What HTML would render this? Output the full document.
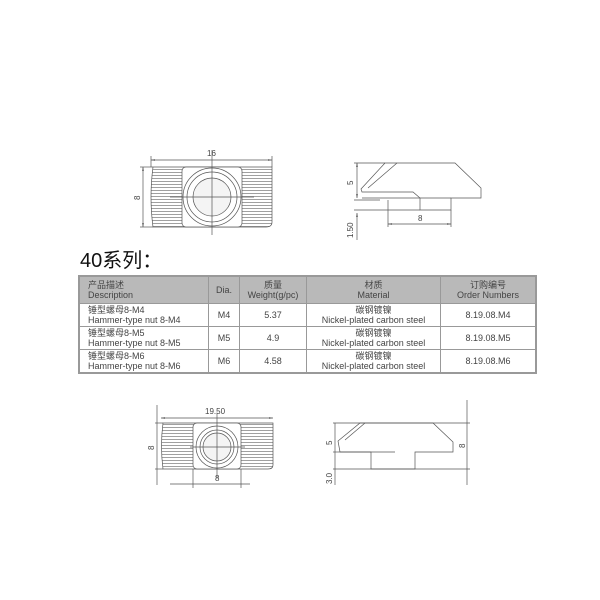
<!DOCTYPE html>
<html><head><style>
body{margin:0;background:#fff;width:600px;height:600px;overflow:hidden;position:relative;font-family:"Liberation Sans","Noto Sans CJK SC",sans-serif}
.t{position:absolute;left:78px;top:275px;border-collapse:collapse;font-size:9px;color:#444;line-height:10px;border:2px solid #999}
.t td{border:1px solid #999;padding:0 3px;text-align:center;height:22px}
.t tr.h td{background:#b9b9b9;height:26px}
.t td.l{text-align:left;padding-left:8px}
</style></head><body>
<div style="position:absolute;left:80px;top:244px;font-size:20px;color:#111;font-family:'Liberation Sans','Noto Sans CJK SC',sans-serif">40系列：</div>
<table class="t">
<tr class="h"><td class="l" style="width:117px">产品描述<br>Description</td><td style="width:24px">Dia.</td><td style="width:60px">质量<br>Weight(g/pc)</td><td style="width:127px">材质<br>Material</td><td style="width:88px">订购编号<br>Order Numbers</td></tr>
<tr><td class="l">锤型螺母8-M4<br>Hammer-type nut 8-M4</td><td>M4</td><td>5.37</td><td>碳钢镀镍<br>Nickel-plated carbon steel</td><td>8.19.08.M4</td></tr>
<tr><td class="l">锤型螺母8-M5<br>Hammer-type nut 8-M5</td><td>M5</td><td>4.9</td><td>碳钢镀镍<br>Nickel-plated carbon steel</td><td>8.19.08.M5</td></tr>
<tr><td class="l">锤型螺母8-M6<br>Hammer-type nut 8-M6</td><td>M6</td><td>4.58</td><td>碳钢镀镍<br>Nickel-plated carbon steel</td><td>8.19.08.M6</td></tr>
</table>
<svg width="600" height="600" style="position:absolute;left:0;top:0" font-family="Liberation Sans" font-size="8" fill="none" stroke="#555" stroke-width="0.7">
<defs><pattern id="hl" width="4" height="3" patternUnits="userSpaceOnUse"><line x1="0" y1="1.5" x2="4" y2="1.5" stroke="#777" stroke-width="0.7"/></pattern>
<marker id="a" viewBox="0 0 10 10" refX="10" refY="5" markerWidth="6" markerHeight="6" orient="auto-start-reverse"><path d="M0 3L10 5L0 7Z" fill="#444" stroke="none"/></marker></defs>
<!-- top left -->
<path d="M153 167 H272 V222 Q272 227 266 227 H153 Q149 197 153 167Z" fill="url(#hl)"/>
<rect x="182" y="167" width="60" height="60" rx="4" fill="#fff"/>
<circle cx="212" cy="197" r="29" fill="#fff"/><circle cx="212" cy="197" r="25"/><circle cx="212" cy="197" r="19" fill="#f4f4f4"/>
<line x1="212" y1="150" x2="212" y2="235"/><line x1="170" y1="197" x2="254" y2="197"/>
<line x1="151" y1="160" x2="272" y2="160" marker-start="url(#a)" marker-end="url(#a)"/><line x1="151" y1="156" x2="151" y2="167"/><line x1="272" y1="156" x2="272" y2="167"/>
<line x1="143" y1="167" x2="143" y2="227" marker-start="url(#a)" marker-end="url(#a)"/><line x1="140" y1="167" x2="153" y2="167"/><line x1="140" y1="227" x2="153" y2="227"/>
<text x="207" y="156" fill="#444" stroke="none">16</text>
<text x="140" y="200" fill="#444" stroke="none" transform="rotate(-90 140 200)">8</text>
<!-- top right side -->
<path d="M361 189 L385 163 H455 L481 188 V198 H451 V210 H420 V198 L413 192 H362Z"/>
<line x1="368" y1="188" x2="397" y2="163"/><line x1="362" y1="198" x2="451" y2="198"/>
<line x1="354" y1="163" x2="385" y2="163"/><line x1="354" y1="200" x2="380" y2="200"/><line x1="354" y1="210" x2="420" y2="210"/>
<line x1="357" y1="163" x2="357" y2="198" marker-start="url(#a)" marker-end="url(#a)"/><line x1="357" y1="213" x2="357" y2="240" marker-start="url(#a)"/>
<line x1="388" y1="200" x2="388" y2="227"/><line x1="451" y1="210" x2="451" y2="227"/><line x1="388" y1="224" x2="451" y2="224" marker-start="url(#a)" marker-end="url(#a)"/>
<text x="353" y="185" fill="#444" stroke="none" transform="rotate(-90 353 185)">5</text>
<text x="353" y="238" fill="#444" stroke="none" transform="rotate(-90 353 238)">1.50</text>
<text x="418" y="221" fill="#444" stroke="none">8</text>
<!-- bottom left -->
<path d="M163 423 H273 V465 Q273 469 268 469 H163 Q160 446 163 423Z" fill="url(#hl)"/>
<rect x="193" y="423" width="48" height="46" rx="4" fill="#fff"/>
<circle cx="217" cy="447" r="21" fill="#fff"/><circle cx="217" cy="447" r="17"/><circle cx="217" cy="447" r="14" fill="#f4f4f4"/>
<line x1="217" y1="413" x2="217" y2="478"/><line x1="190" y1="447" x2="245" y2="447"/>
<line x1="161" y1="418" x2="273" y2="418" marker-start="url(#a)" marker-end="url(#a)"/><line x1="155" y1="423" x2="163" y2="423"/><line x1="155" y1="469" x2="163" y2="469"/>
<line x1="157" y1="405" x2="157" y2="485"/>
<line x1="193" y1="469" x2="193" y2="488"/><line x1="241" y1="469" x2="241" y2="488"/><line x1="170" y1="484" x2="250" y2="484"/>
<text x="205" y="414" fill="#444" stroke="none">19.50</text>
<text x="154" y="450" fill="#444" stroke="none" transform="rotate(-90 154 450)">8</text>
<text x="215" y="481" fill="#444" stroke="none">8</text>
<!-- bottom right -->
<path d="M338 441 L360 423 H433 L453 442 V452 H415 V469 H371 V452 H340Z"/>
<line x1="345" y1="440" x2="365" y2="423"/><line x1="340" y1="452" x2="395" y2="452"/>
<line x1="333" y1="423" x2="470" y2="423"/><line x1="333" y1="469" x2="470" y2="469"/><line x1="333" y1="452" x2="340" y2="452"/>
<line x1="335" y1="423" x2="335" y2="485"/><line x1="467" y1="400" x2="467" y2="485"/>
<text x="332" y="445" fill="#444" stroke="none" transform="rotate(-90 332 445)">5</text>
<text x="332" y="484" fill="#444" stroke="none" transform="rotate(-90 332 484)">3.0</text>
<text x="465" y="448" fill="#444" stroke="none" transform="rotate(-90 465 448)">8</text>
</svg>
</body></html>
